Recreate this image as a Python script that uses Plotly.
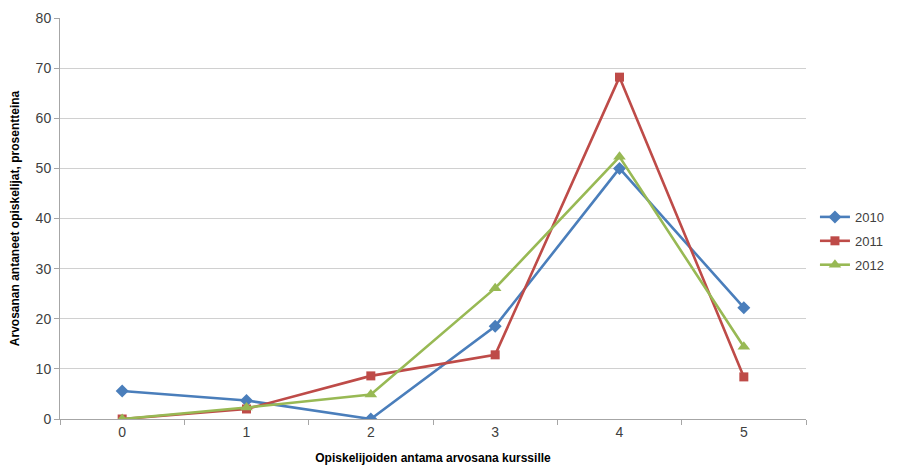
import plotly.graph_objects as go

grades = [0, 1, 2, 3, 4, 5]
s2010 = [5.6, 3.7, 0.0, 18.5, 50.0, 22.2]
s2011 = [0.0, 2.0, 8.6, 12.8, 68.2, 8.4]
s2012 = [0.0, 2.3, 4.9, 26.1, 52.3, 14.4]

font = "Liberation Sans"
fig = go.Figure()
series = [
    ("2010", s2010, "#4A7EBB", "diamond", 10),
    ("2011", s2011, "#BE4B48", "square", 9),
    ("2012", s2012, "#98B954", "triangle-up", 11),
]
for name, vals, col, sym, sz in series:
    fig.add_trace(go.Scatter(
        x=grades, y=vals, name=name, mode="lines+markers", legendgroup=name,
        line=dict(color=col, width=2.6),
        marker=dict(symbol=sym, size=sz, color=col),
    ))

fig.update_layout(
    width=897, height=467,
    margin=dict(l=52, r=99, t=10, b=56, autoexpand=False),
    plot_bgcolor="white", paper_bgcolor="white",
    font=dict(family=font, size=14, color="#404040"),
    legend=dict(x=1.012, y=0.444, xanchor="left", yanchor="middle",
                font=dict(size=13, color="#404040"), tracegroupgap=4,
                itemwidth=30),
    xaxis=dict(
        automargin=False,
        range=[-0.5, 5.5], tickmode="array", tickvals=grades,
        ticktext=[str(g) for g in grades],
        showgrid=False, zeroline=False, showline=True,
        linecolor="#A6A6A6", linewidth=1, ticks="",
        minor=dict(tickmode="linear", tick0=0.5, dtick=1, ticks="outside",
                   ticklen=5, tickcolor="#A6A6A6", showgrid=False),
        title=dict(text="<b>Opiskelijoiden antama arvosana kurssille</b>",
                   font=dict(size=12, color="#000000"), standoff=14),
    ),
    yaxis=dict(
        automargin=False,
        range=[0, 80], dtick=10, showgrid=True, gridcolor="#D0D0D0",
        gridwidth=1, zeroline=False, showline=True, linecolor="#A6A6A6",
        ticks="outside", ticklen=5, tickcolor="#A6A6A6",
        title=dict(text="<b>Arvosanan antaneet opiskelijat, prosentteina</b>",
                   font=dict(size=12, color="#000000"), standoff=14),
    ),
)
fig.write_html("out.html")
